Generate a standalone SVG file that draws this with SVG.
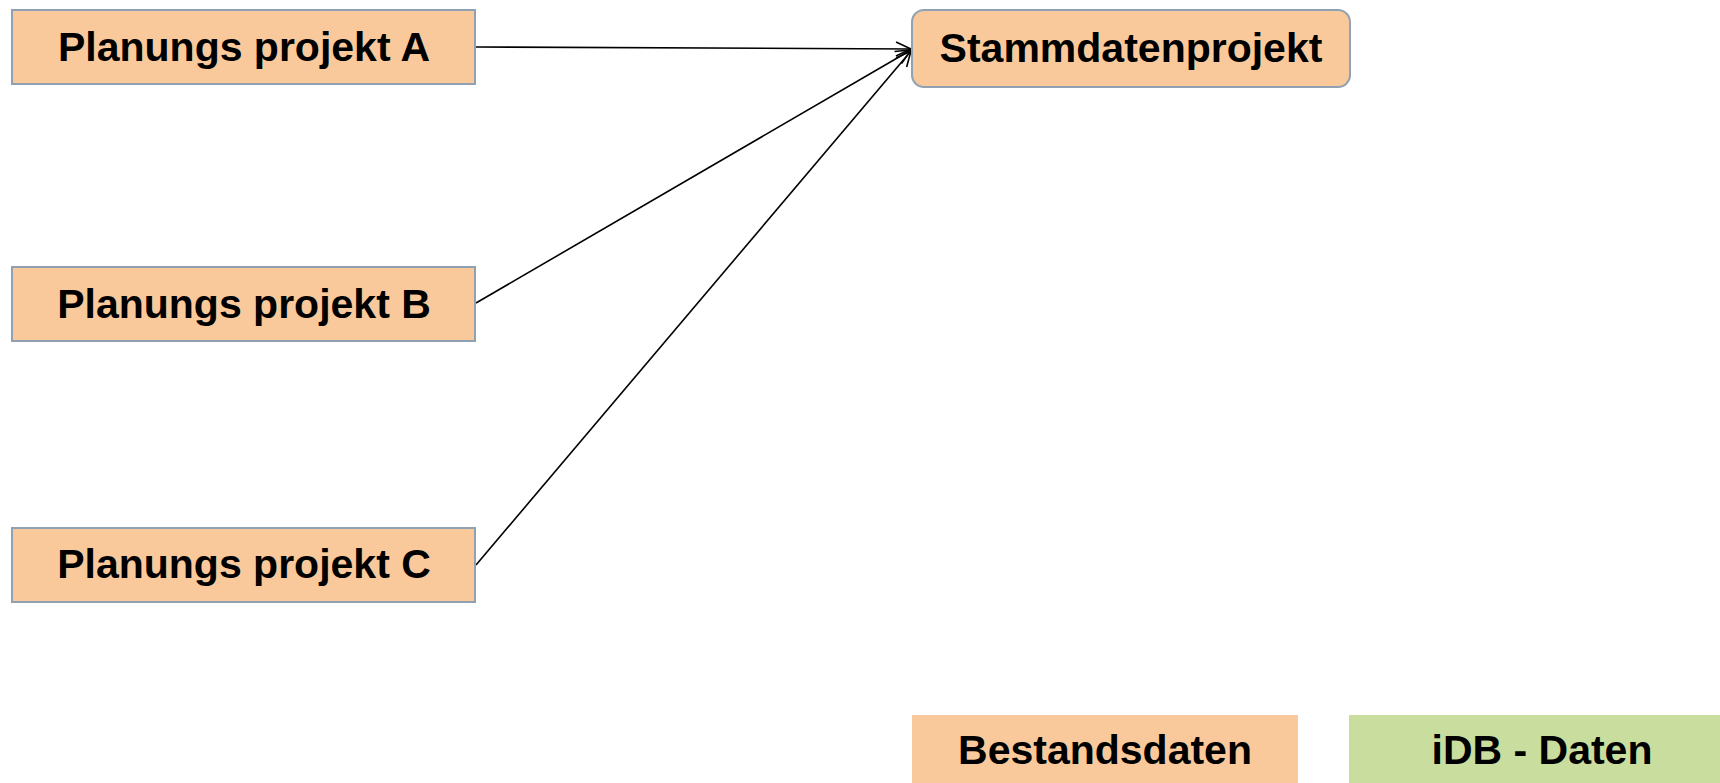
<svg xmlns="http://www.w3.org/2000/svg" width="1720" height="783" viewBox="0 0 1720 783">
<style>
.box{fill:#F9C99B;stroke:#8FA1B3;stroke-width:2}
.leg{stroke:none}
.t{font-family:"Liberation Sans",Arial,sans-serif;font-weight:bold;font-size:41px;fill:#000;text-anchor:middle}
.c{stroke:#000;stroke-width:1.6;fill:none}
</style>
<defs>
<marker id="arr" markerUnits="userSpaceOnUse" markerWidth="20" markerHeight="20" refX="16" refY="8" orient="auto">
<path d="M1,1 L16,8 L1,15" fill="none" stroke="#000" stroke-width="1.6"/>
</marker>
</defs>
<g id="connectors">
<line class="c" x1="476" y1="47" x2="911" y2="49" marker-end="url(#arr)"/>
<line class="c" x1="476" y1="303" x2="911" y2="50" marker-end="url(#arr)"/>
<line class="c" x1="476" y1="565" x2="911" y2="51" marker-end="url(#arr)"/>
</g>
<g id="nodeA">
<rect class="box" x="12" y="10" width="463" height="74"/>
<text class="t" x="244" y="61">Planungs projekt A</text>
</g>
<g id="nodeB">
<rect class="box" x="12" y="267" width="463" height="74"/>
<text class="t" x="244" y="318">Planungs projekt B</text>
</g>
<g id="nodeC">
<rect class="box" x="12" y="528" width="463" height="74"/>
<text class="t" x="244" y="578">Planungs projekt C</text>
</g>
<g id="stamm">
<rect class="box" x="912" y="10" width="438" height="77" rx="12" ry="12"/>
<text class="t" x="1131" y="62">Stammdatenprojekt</text>
</g>
<g id="legendBestand">
<rect class="leg" x="912" y="715" width="386" height="70" fill="#F9C99B"/>
<text class="t" x="1105" y="764">Bestandsdaten</text>
</g>
<g id="legendIDB">
<rect class="leg" x="1349" y="715" width="375" height="70" fill="#C9DD9E"/>
<text class="t" x="1542" y="764">iDB - Daten</text>
</g>
</svg>
